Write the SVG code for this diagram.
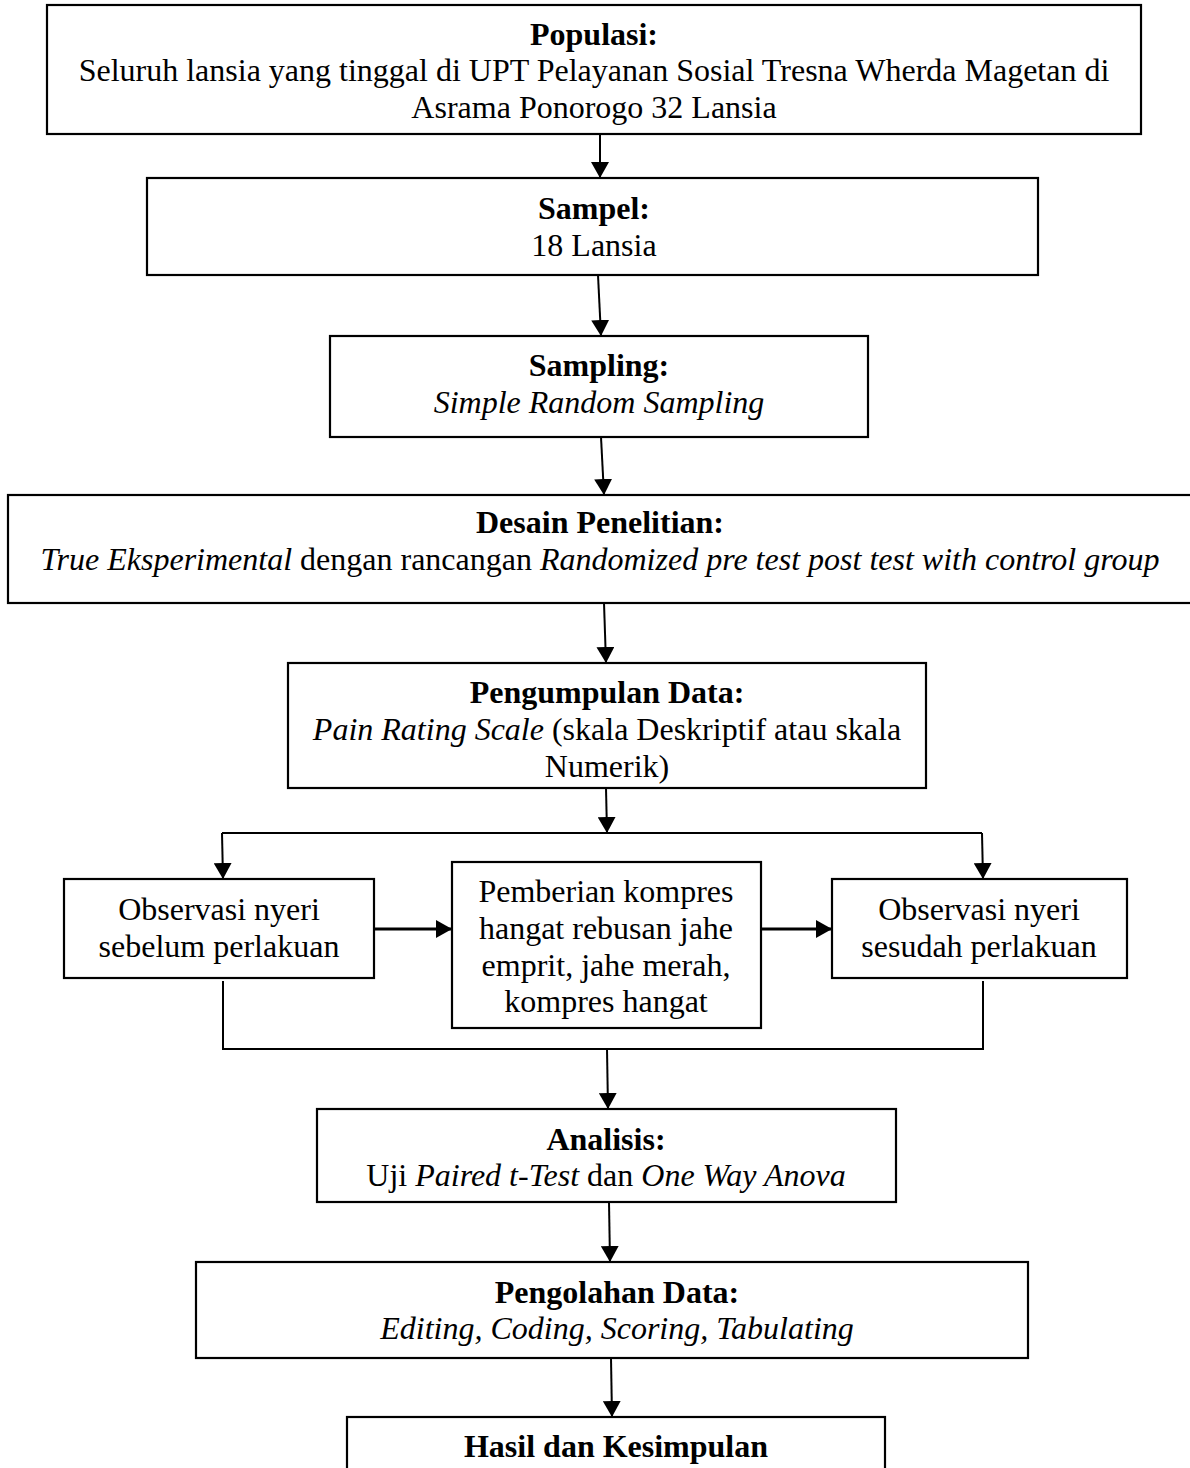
<svg xmlns="http://www.w3.org/2000/svg" width="1190" height="1468" viewBox="0 0 1190 1468">
<defs>
<style>
.box{fill:#fff;stroke:#000;stroke-width:2.2}
.t{font-family:"Liberation Serif","Times New Roman",serif;font-size:32px;fill:#000;text-anchor:middle}
.b{font-weight:bold}
.i{font-style:italic}
.c{fill:none;stroke:#000;stroke-width:2}
.ct{fill:none;stroke:#000;stroke-width:3}
</style>
<marker id="ah" markerUnits="userSpaceOnUse" markerWidth="18" markerHeight="18" refX="16" refY="9" orient="auto" viewBox="0 0 18 18">
<path d="M0,0 L16,9 L0,18 z" fill="#000"/>
</marker>
</defs>
<rect width="1190" height="1468" fill="#fff"/>

<g id="connectors">
<line class="c" x1="600" y1="134" x2="600" y2="178" marker-end="url(#ah)"/>
<line class="c" x1="598" y1="275" x2="601" y2="336" marker-end="url(#ah)"/>
<line class="c" x1="601" y1="437" x2="604" y2="495" marker-end="url(#ah)"/>
<line class="c" x1="604" y1="603" x2="606" y2="663" marker-end="url(#ah)"/>
<line class="c" x1="606" y1="788" x2="607" y2="833" marker-end="url(#ah)"/>
<line class="c" x1="222" y1="833" x2="982" y2="833"/>
<line class="c" x1="222" y1="833" x2="223" y2="879" marker-end="url(#ah)"/>
<line class="c" x1="982" y1="833" x2="983" y2="879" marker-end="url(#ah)"/>
<line class="ct" x1="374" y1="929" x2="452" y2="929" marker-end="url(#ah)"/>
<line class="ct" x1="761" y1="929" x2="832" y2="929" marker-end="url(#ah)"/>
<polyline class="c" points="223,981 223,1049 983,1049 983,981"/>
<line class="c" x1="607" y1="1049" x2="608" y2="1109" marker-end="url(#ah)"/>
<line class="c" x1="609" y1="1202" x2="610" y2="1262" marker-end="url(#ah)"/>
<line class="c" x1="611" y1="1358" x2="612" y2="1417" marker-end="url(#ah)"/>
</g>

<g id="populasi">
<rect class="box" x="47" y="5" width="1094" height="129"/>
<text class="t b" x="594" y="45">Populasi:</text>
<text class="t" x="594" y="81">Seluruh lansia yang tinggal di UPT Pelayanan Sosial Tresna Wherda Magetan di</text>
<text class="t" x="594" y="118">Asrama Ponorogo 32 Lansia</text>
</g>

<g id="sampel">
<rect class="box" x="147" y="178" width="891" height="97"/>
<text class="t b" x="594" y="219">Sampel:</text>
<text class="t" x="594" y="256">18 Lansia</text>
</g>

<g id="sampling">
<rect class="box" x="330" y="336" width="538" height="101"/>
<text class="t b" x="599" y="376">Sampling:</text>
<text class="t i" x="599" y="413">Simple Random Sampling</text>
</g>

<g id="desain">
<rect class="box" x="8" y="495" width="1200" height="108"/>
<text class="t b" x="600" y="533">Desain Penelitian:</text>
<text class="t" x="600" y="570"><tspan class="i">True Eksperimental</tspan> dengan rancangan <tspan class="i">Randomized pre test post test with control group</tspan></text>
</g>

<g id="pengumpulan">
<rect class="box" x="288" y="663" width="638" height="125"/>
<text class="t b" x="607" y="703">Pengumpulan Data:</text>
<text class="t" x="607" y="740"><tspan class="i">Pain Rating Scale</tspan> (skala Deskriptif atau skala</text>
<text class="t" x="607" y="777">Numerik)</text>
</g>

<g id="obs-sebelum">
<rect class="box" x="64" y="879" width="310" height="99"/>
<text class="t" x="219" y="920">Observasi nyeri</text>
<text class="t" x="219" y="957">sebelum perlakuan</text>
</g>

<g id="pemberian">
<rect class="box" x="452" y="862" width="309" height="166"/>
<text class="t" x="606" y="902">Pemberian kompres</text>
<text class="t" x="606" y="939">hangat rebusan jahe</text>
<text class="t" x="606" y="976">emprit, jahe merah,</text>
<text class="t" x="606" y="1012">kompres hangat</text>
</g>

<g id="obs-sesudah">
<rect class="box" x="832" y="879" width="295" height="99"/>
<text class="t" x="979" y="920">Observasi nyeri</text>
<text class="t" x="979" y="957">sesudah perlakuan</text>
</g>

<g id="analisis">
<rect class="box" x="317" y="1109" width="579" height="93"/>
<text class="t b" x="606" y="1150">Analisis:</text>
<text class="t" x="606" y="1186">Uji <tspan class="i">Paired t-Test</tspan> dan <tspan class="i">One Way Anova</tspan></text>
</g>

<g id="pengolahan">
<rect class="box" x="196" y="1262" width="832" height="96"/>
<text class="t b" x="617" y="1303">Pengolahan Data:</text>
<text class="t i" x="617" y="1339">Editing, Coding, Scoring, Tabulating</text>
</g>

<g id="hasil">
<rect class="box" x="347" y="1417" width="538" height="80"/>
<text class="t b" x="616" y="1457">Hasil dan Kesimpulan</text>
</g>
</svg>
